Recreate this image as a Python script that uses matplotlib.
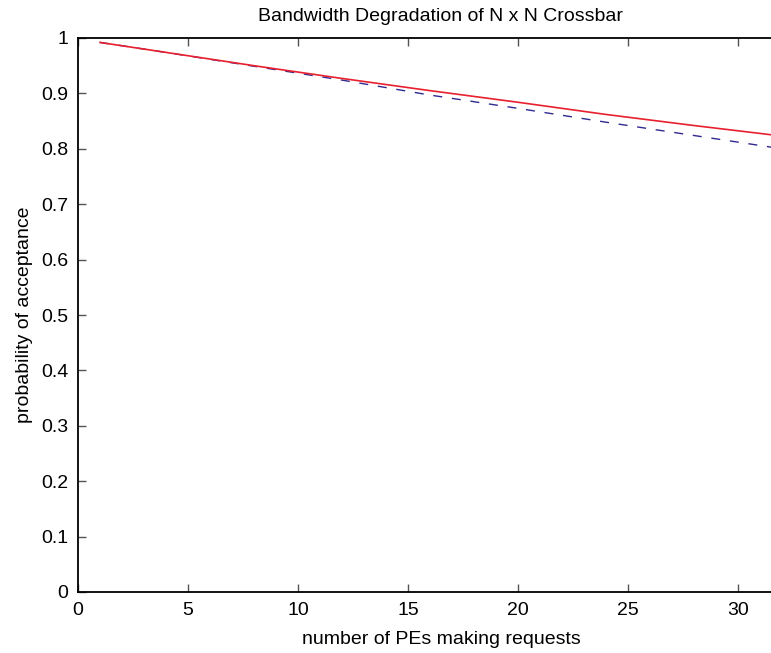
import matplotlib
matplotlib.use("Agg")
import matplotlib.pyplot as plt

plt.rcParams['font.family'] = ['Liberation Sans', 'DejaVu Sans']

# data
n_pes = [1, 4, 8, 12, 16, 20, 24, 28, 32]
accept_red = [0.992, 0.974, 0.950, 0.927, 0.905, 0.884, 0.862, 0.842, 0.823]
accept_blue = [0.992, 0.974, 0.949, 0.924, 0.897, 0.873, 0.848, 0.824, 0.800]

x_ticks = [0, 5, 10, 15, 20, 25, 30]
y_ticks = [0, 0.1, 0.2, 0.3, 0.4, 0.5, 0.6, 0.7, 0.8, 0.9, 1]
y_tick_labels = ['0', '0.1', '0.2', '0.3', '0.4', '0.5', '0.6', '0.7', '0.8', '0.9', '1']

fig = plt.figure(figsize=(7.71, 6.53), dpi=100)
# the plot box runs past the right edge of the picture
ax = fig.add_axes([78 / 771, 61 / 653, (804 - 78) / 771, 554 / 653])

ax.plot(n_pes, accept_blue, color='#2f2a8f', linewidth=1.0, dashes=(6.5, 7))
ax.plot(n_pes, accept_red, color='#e8202e', linewidth=1.2)

ax.set_xlim(0, 33)
ax.set_ylim(0, 1)
ax.set_xticks(x_ticks)
ax.set_yticks(y_ticks)
ax.set_yticklabels(y_tick_labels)

ax.tick_params(direction='in', length=6, width=1, color='#555555',
               labelsize=14, top=True, right=False)
ax.tick_params(axis='x', pad=7)
ax.tick_params(axis='y', pad=7)
for side in ['left', 'bottom', 'top']:
    ax.spines[side].set_linewidth(1.3)
ax.spines['right'].set_visible(False)

ax.set_title('Bandwidth Degradation of N x N Crossbar', fontsize=14, pad=12)
ax.set_xlabel('number of PEs making requests', fontsize=14, labelpad=9)
ax.set_ylabel('probability of acceptance', fontsize=14, labelpad=6)

fig.savefig('out.png', dpi=100)
